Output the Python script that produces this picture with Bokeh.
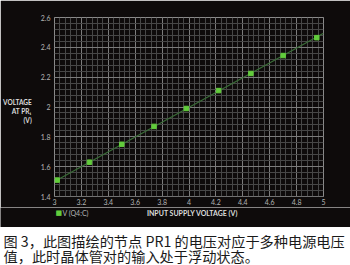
from bokeh.plotting import figure
from bokeh.layouts import column
from bokeh.models import SingleIntervalTicker, Label, Range1d
from bokeh.embed import file_html
from bokeh.resources import INLINE

# ---- data ----
supply_v = [3.02, 3.26, 3.50, 3.74, 3.98, 4.22, 4.46, 4.70, 4.95]
pr1_v = [1.51, 1.63, 1.75, 1.87, 1.99, 2.11, 2.225, 2.345, 2.465]
trend_x = [3.02, 5.0]
trend_y = [1.51, 2.495]
x_range = (3.0, 5.0)
y_range = (1.4, 2.6)
series_name = "V (Q4:C)"
x_title = "INPUT SUPPLY VOLTAGE (V)"
y_title = "\nVOLTAGE\nAT PR\u2081\n(V)"
caption = ["图 3，此图描绘的节点 PR1 的电压对应于多种电源电压",
           "值，此时晶体管对的输入处于浮动状态。"]

BG = "#0e0b0b"
TXT = "#b4b4b4"
FONT = "Lato"
GREEN = "#62cc3c"

# ---- main plot ----
p = figure(width=350, height=207, output_backend="svg", toolbar_location=None,
           x_range=Range1d(*x_range), y_range=Range1d(*y_range),
           min_border_left=53, min_border_right=27, min_border_top=17,
           min_border_bottom=11, frame_align=False)
p.border_fill_color = BG
p.background_fill_color = BG
p.outline_line_color = "#8a8a8a"
p.outline_line_width = 1

p.xaxis.ticker = SingleIntervalTicker(interval=0.2, num_minor_ticks=5)
p.yaxis.ticker = SingleIntervalTicker(interval=0.2, num_minor_ticks=5)
for ax in (p.xaxis[0], p.yaxis[0]):
    ax.axis_line_color = None
    ax.major_tick_line_color = None
    ax.minor_tick_line_color = None
    ax.major_tick_in = 0
    ax.major_tick_out = 0
    ax.minor_tick_out = 0
    ax.major_label_text_color = TXT
    ax.major_label_text_font = FONT
    ax.major_label_text_font_size = "7px"
p.xaxis.major_label_standoff = 2
p.yaxis.major_label_standoff = 4
p.xaxis.major_label_overrides = {3.0: "3", 4.0: "4", 5.0: "5"}

p.yaxis.axis_label = y_title
p.yaxis.axis_label_orientation = "horizontal"
p.yaxis.axis_label_text_align = "center"
p.yaxis.axis_label_standoff = 6
p.yaxis.axis_label_text_font = FONT
p.yaxis.axis_label_text_font_style = "bold"
p.yaxis.axis_label_text_font_size = "6.5px"
p.yaxis.axis_label_text_color = "#dcdcdc"
p.yaxis.axis_label_text_line_height = 1.3

for g in (p.xgrid[0], p.ygrid[0]):
    g.grid_line_color = "#7c7c7c"
    g.grid_line_width = 1
    g.minor_grid_line_color = "#474747"
    g.minor_grid_line_width = 1

p.line(trend_x, trend_y, line_color="#3a6e38", line_width=1.2)
p.scatter(supply_v, pr1_v, marker="square", size=4.5,
          fill_color=GREEN, line_color=GREEN)

# ---- legend / x-title row ----
r = figure(width=350, height=20, output_backend="svg", toolbar_location=None,
           x_range=Range1d(0, 1), y_range=Range1d(0, 1),
           x_axis_type=None, y_axis_type=None, min_border=0, frame_align=False)
r.grid.visible = False
r.outline_line_color = None
r.background_fill_color = BG
r.border_fill_color = BG
r.add_layout(Label(x=55, y=15, x_units="screen", y_units="screen", text="\u25a0",
                   text_align="left", text_baseline="middle", text_color=GREEN,
                   text_font="DejaVu Sans", text_font_size="7px"))
r.add_layout(Label(x=62, y=15, x_units="screen", y_units="screen", text=series_name,
                   text_align="left", text_baseline="middle", text_color=TXT,
                   text_font=FONT, text_font_size="7px"))
r.add_layout(Label(x=192, y=15, x_units="screen", y_units="screen", text=x_title,
                   text_align="center", text_baseline="middle", text_color="#dcdcdc",
                   text_font=FONT, text_font_style="bold", text_font_size="7px"))

# ---- caption ----
c = figure(width=350, height=38, output_backend="svg", toolbar_location=None,
           x_range=Range1d(0, 1), y_range=Range1d(0, 1),
           x_axis_type=None, y_axis_type=None, min_border=0, frame_align=False)
c.grid.visible = False
c.outline_line_color = None
c.background_fill_color = "white"
c.border_fill_color = "white"
for i, t in enumerate(caption):
    c.add_layout(Label(x=3, y=24.5 - i * 14.5, x_units="screen", y_units="screen",
                       text=t, text_align="left", text_baseline="middle",
                       text_color="#1a1a1a", text_font="Noto Sans CJK SC",
                       text_font_size="14.2px"))

layout = column(p, r, c, spacing=0)
open("out.html", "w").write(file_html(layout, INLINE))
